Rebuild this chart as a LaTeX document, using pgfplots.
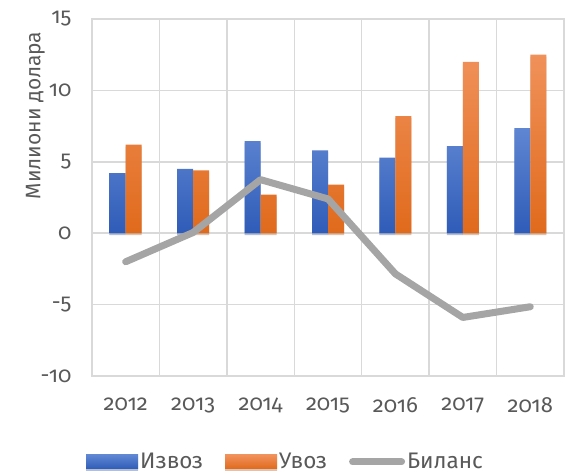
\documentclass[border=0pt]{standalone}
\usepackage{pgfplots}
\pgfplotsset{compat=1.18}
\usepackage{fontspec}
\setmainfont{Fira Sans}[Numbers=OldStyle]
\usetikzlibrary{shadows}
\definecolor{gridc}{HTML}{D9D9D9}
\definecolor{tickc}{HTML}{595959}
\definecolor{btop}{HTML}{5F86D2}
\definecolor{bbot}{HTML}{2F5CB8}
\definecolor{otop}{HTML}{F0915A}
\definecolor{obot}{HTML}{E06A1C}
\definecolor{linec}{HTML}{A5A5A5}
\begin{document}
\begin{tikzpicture}
\begin{axis}[
  scale only axis,
  width=472pt, height=357pt,
  xmin=-0.5, xmax=6.5,
  ymin=-10, ymax=15,
  ytick={-10,-5,0,5,10,15},
  xtick={0,1,2,3,4,5,6},
  xticklabels={2012,2013,2014,2015,2016,2017,2018},
  minor xtick={-0.5,0.5,1.5,2.5,3.5,4.5,5.5,6.5},
  xminorgrids=true, ymajorgrids=true,
  grid style={gridc, line width=1.5pt},
  minor grid style={gridc, line width=1.5pt},
  axis line style={gridc, line width=1.5pt},
  major tick length=0pt, minor tick length=0pt,
  /pgf/number format/assume math mode=true,
  ticklabel style={font=\fontsize{22}{24}\selectfont, text=tickc},
  yticklabel style={xshift=-17pt},
  xticklabel style={yshift=-18pt},
  ylabel={Милиони долара},
  every axis y label/.style={at={(axis description cs:-0.12,0.73)}, rotate=90, anchor=center,
     font=\fontsize{21}{23}\selectfont, text=tickc},
  ybar=0pt, bar width=16pt,
  legend columns=3,
  legend style={at={(0.41,-0.205)}, anchor=north, draw=none, fill=none,
    font=\fontsize{22.5}{24}\selectfont, text=tickc,
    /tikz/every even column/.append style={column sep=20pt}},
  legend cell align=left,
  clip=false,
]
\addplot[draw=none, top color=btop, bottom color=bbot,
  drop shadow={opacity=0.25, shadow xshift=0pt, shadow yshift=-2pt},
  legend image code/.code={\fill[top color=btop, bottom color=bbot] (0pt,-7pt) rectangle (52pt,7pt);}]
  coordinates {(0,4.2) (1,4.5) (2,6.45) (3,5.8) (4,5.3) (5,6.1) (6,7.35)};
\addlegendentry{Извоз}
\addplot[draw=none, top color=otop, bottom color=obot,
  drop shadow={opacity=0.25, shadow xshift=0pt, shadow yshift=-2pt},
  legend image code/.code={\fill[top color=otop, bottom color=obot] (0pt,-7pt) rectangle (52pt,7pt);}]
  coordinates {(0,6.2) (1,4.4) (2,2.7) (3,3.4) (4,8.2) (5,12.0) (6,12.5)};
\addlegendentry{Увоз}
\addplot[sharp plot, linec, line width=7pt, line join=round, line cap=round, mark=none,
  legend image code/.code={\draw[linec, line width=7pt, line cap=round] (3pt,0pt) -- (52pt,0pt);}]
  coordinates {(0,-2.0) (1,0.05) (2,3.75) (3,2.4) (4,-2.85) (5,-5.9) (6,-5.15)};
\addlegendentry{Биланс}
\end{axis}
\path[use as bounding box] (current axis.south west) ++(-92pt,-95pt) rectangle ([xshift=1pt,yshift=19pt]current axis.north east);
\end{tikzpicture}
\end{document}
